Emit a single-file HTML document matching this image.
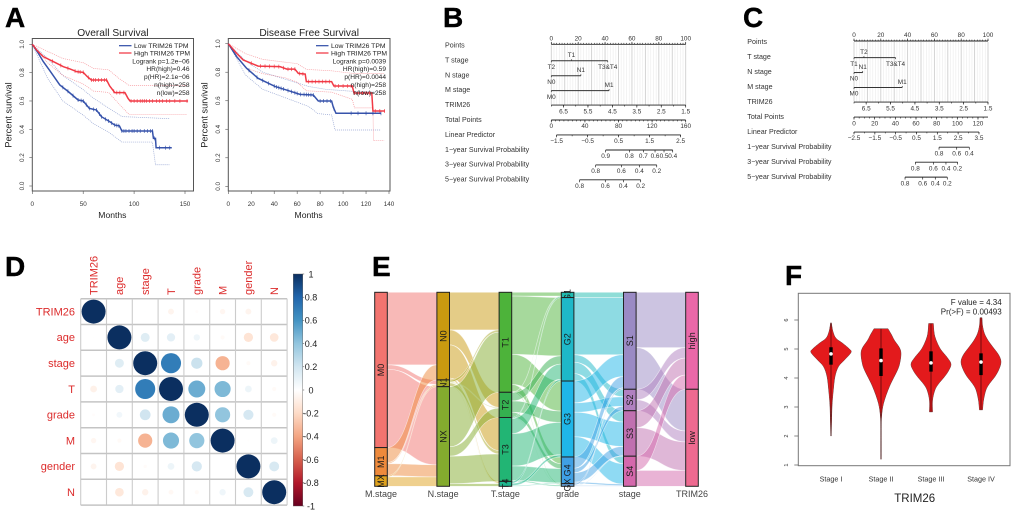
<!DOCTYPE html>
<html lang="en">
<head>
<meta charset="utf-8">
<title>TRIM26 multi-panel figure</title>
<style>
html,body{margin:0;padding:0;background:#fff;width:1020px;height:516px;overflow:hidden}
svg{display:block;font-family:"Liberation Sans",Arial,sans-serif;filter:blur(.35px)}
.letter{font-weight:bold;font-size:28px;fill:#000;stroke:#000;stroke-width:.4}
</style>
</head>
<body>
<svg id="figure" xmlns="http://www.w3.org/2000/svg" width="1020" height="516" viewBox="0 0 1020 516">
  <rect x="0" y="0" width="1020" height="516" fill="#fff"/>
  <defs>
    <linearGradient id="corrGradient" x1="0" y1="1" x2="0" y2="0"></linearGradient>
  </defs>
  <text class="letter" x="5" y="27">A</text>
  <text class="letter" x="443" y="27">B</text>
  <text class="letter" x="743" y="27">C</text>
  <text class="letter" x="5" y="276">D</text>
  <text class="letter" x="372" y="276">E</text>
  <text class="letter" x="785" y="285">F</text>
  <g id="panelA1"></g>
  <g id="panelA2"></g>
  <g id="panelB"></g>
  <g id="panelC"></g>
  <g id="panelD"></g>
  <g id="panelE"></g>
  <g id="panelF"></g>
</svg>
<script>
/* ---------- Panel A data ---------- */
const osLowMonths = [0,5.9,10.8,17.4,27,35.4,45,50,56,63,68,76,81,85.6,88,118,119,121,121.6,137];
const osLowSurv = [1,.937,.878,.812,.713,.666,.607,.6,.548,.536,.489,.454,.43,.424,.388,.388,.336,.336,.27,.27];
const osHighMonths = [0,4.3,10.8,20.6,30.5,37,43.6,50,54,58,73,76,81,91,94,96,153];
const osHighSurv = [1,.96,.913,.878,.842,.826,.807,.802,.772,.748,.748,.706,.659,.659,.619,.6,.6];
const osLowUpperMonths = [0,15,30,50,60,75,88,135];
const osLowUpperSurv = [1,.9,.78,.68,.62,.55,.49,.475];
const osLowLowerMonths = [0,15,30,50,60,75,88,118,121,135];
const osLowLowerSurv = [1,.76,.6,.5,.44,.38,.31,.31,.15,.15];
const osHighUpperMonths = [0,15,30,50,60,75,85,95,152];
const osHighUpperSurv = [1,.95,.9,.87,.83,.82,.76,.71,.71];
const osHighLowerMonths = [0,15,30,50,60,75,85,95,152];
const osHighLowerSurv = [1,.87,.78,.72,.67,.66,.58,.505,.505];
const osLowCensor = [30,35,40,45,48,50,53,56,60,63,66,68,72,75,78,81,83,85,88,90,92,95,98,100,103,106,110,113,116,118,120,125,131,135];
const osHighCensor = [20,28,35,42,45,47,50,55,58,60,62,65,68,71,73,80,83,86,90,97,100,103,106,108,110,112,115,118,122,125,128,132,135,140,145,152];
const osStats = ["Logrank p=1.2e−06","HR(high)=0.46","p(HR)=2.1e−06","n(high)=258","n(low)=258"];
const osXTicks = [0,50,100,150];

const dfsLowMonths = [0,7.3,16,26,40.7,50.8,62.4,74,78.4,90,91.5,93.8,133];
const dfsLowSurv = [1,.909,.827,.757,.7,.675,.645,.64,.598,.598,.554,.512,.512];
const dfsHighMonths = [0,7.3,13,26,45,51,58,61,67,68,90,92,108,109.5,125,126,136.5];
const dfsHighSurv = [1,.932,.886,.843,.839,.822,.822,.792,.787,.734,.734,.703,.703,.654,.654,.528,.528];
const dfsLowUpperMonths = [0,15,30,50,70,85,110,133];
const dfsLowUpperSurv = [1,.88,.8,.75,.7,.68,.665,.66];
const dfsLowLowerMonths = [0,15,30,50,70,78,90,93,133];
const dfsLowLowerSurv = [1,.78,.68,.62,.56,.51,.5,.395,.395];
const dfsHighUpperMonths = [0,15,30,50,60,68,90,110,136];
const dfsHighUpperSurv = [1,.93,.89,.87,.86,.82,.81,.79,.79];
const dfsHighLowerMonths = [0,15,30,50,60,68,90,108,110,126,126.5,136];
const dfsHighLowerSurv = [1,.83,.79,.76,.73,.67,.66,.61,.55,.55,.32,.32];
const dfsLowCensor = [18,25,30,35,40,42,44,46,48,52,55,58,60,63,66,68,70,72,74,80,83,86,89,92,107,113,120,126,133];
const dfsHighCensor = [20,28,32,36,40,44,48,52,55,58,62,65,70,73,76,79,82,85,88,93,96,100,104,107,110,113,117,120,123,128,132,136];
const dfsStats = ["Logrank p=0.0039","HR(high)=0.59","p(HR)=0.0044","n(high)=258","n(low)=258"];
const dfsXTicks = [0,20,40,60,80,100,120,140];
const survivalTicks = [0,.2,.4,.6,.8,1];

/* ---------- Panels B / C data (positions in nomogram units) ---------- */
const nomoRowLabels = ["Points","T stage","N stage","M stage","TRIM26","Total Points","Linear Predictor","1−year Survival Probability","3−year Survival Probability","5−year Survival Probability"];
const pointsTicks = [0,20,40,60,80,100];
const trimTicks = [6.5,5.5,4.5,3.5,2.5,1.5];

const bTLabels = ["T2","T1","T3&T4"];
const bTPoints = [0,15,42];
const bNLabels = ["N0","N1"];
const bNPoints = [0,22];
const bMLabels = ["M0","M1"];
const bMPoints = [0,43];
const bTotalTicks = [0,40,80,120,160];
const bLpTicks = [-1.5,-.5,.5,1.5,2.5];
const b1yLabels = ["0.9","0.8","0.7","0.6","0.5","0.4"];
const b1yTotals = [64.7,92.9,109.6,123.5,134.2,144.5];
const b3yLabels = ["0.8","0.6","0.4","0.2"];
const b3yTotals = [52.8,83.4,104.8,125.5];
const b5yLabels = ["0.8","0.6","0.4","0.2"];
const b5yTotals = [33.7,64.3,85.8,106.4];

const cTLabels = ["T1","T2","T3&T4"];
const cTPoints = [0,7.4,31];
const cNLabels = ["N0","N1"];
const cNPoints = [0,6.5];
const cMLabels = ["M0","M1"];
const cMPoints = [0,36];
const cTotalTicks = [0,20,40,60,80,100,120];
const cLpTicks = [-2.5,-1.5,-.5,.5,1.5,2.5,3.5];
const c1yLabels = ["0.8","0.6","0.4"];
const c1yTotals = [82.3,99.4,111.6];
const c3yLabels = ["0.8","0.6","0.4","0.2"];
const c3yTotals = [59.4,76.8,89,100.3];
const c5yLabels = ["0.8","0.6","0.4","0.2"];
const c5yTotals = [49.4,66.5,78.7,90.3];

/* ---------- Panel D data ---------- */
const corrVars = ["TRIM26","age","stage","T","grade","M","gender","N"];
const corrMatrix = [
 [1,0,0.003,-0.06,-0.015,-0.05,-0.06,0],
 [-0.003,1,0.14,0.12,0.07,-0.03,-0.15,-0.13],
 [0.003,0.14,1,0.7,0.22,-0.35,-0.03,-0.07],
 [-0.08,0.12,0.7,1,0.5,0.45,0.08,-0.03],
 [-0.015,0.06,0.2,0.5,1,0.4,0.18,-0.03],
 [-0.05,-0.03,-0.35,0.45,0.4,1,-0.006,0.08],
 [-0.06,-0.15,-0.02,0.08,0.18,0,1,0.17],
 [0,-0.13,-0.07,-0.04,-0.03,0.07,0.17,1]
];
const corrBarTicks = [1,0.8,0.6,0.4,0.2,0,-0.2,-0.4,-0.6,-0.8,-1];

/* ---------- Panel E data ---------- */
const alluvialAxisTitles = ["M.stage","N.stage","T.stage","grade","stage","TRIM26"];
const mStageLevels = ["M0","M1","MX"];
const nStageLevels = ["N0","N1","NX"];
const tStageLevels = ["T1","T2","T3","T4"];
const gradeLevels = ["G1","G2","G3","G4","GX"];
const stageLevels = ["S1","S2","S3","S4"];
const trimLevels = ["high","low"];
const mToN = [[193,12,208],[40,3,32],[0,3,25]];
const nToT = [[100,40,88,5],[6,2,9,1],[160,25,73,7]];
const tToGrade = [[10,155,80,18,3],[1,22,30,13,1],[3,40,86,38,3],[0,5,6,2,0]];
const gradeToStage = [[14,0,0,0],[152,20,30,20],[58,25,65,54],[30,12,25,4],[4,0,1,2]];
const stageToTrim = [[147,111],[28,29],[45,76],[38,42]];

/* ---------- Panel F data ---------- */
const violinGroups = ["Stage I","Stage II","Stage III","Stage IV"];
const violinLevels = [
 [5.9,5.6,5.37,5.2,5,4.88,4.62,4.39,4.05,3.6,3.3,3,2.5,2],
 [5.7,5.5,5.3,5.05,4.85,4.55,4.28,3.7,3.13,2.67,2.2,1.5,1.2],
 [5.88,5.6,5.42,5.2,4.97,4.7,4.48,4.25,4.04,3.8,3.59,3.24,2.83],
 [6.08,5.8,5.54,5.3,5.08,4.8,4.56,4.3,4.05,3.8,3.59,3.24,2.9]
];
const violinDensity = [
 [.02,.1,.25,.58,.92,1,.67,.37,.2,.12,.08,.05,.03,.01],
 [.35,.52,.67,.92,1,.95,.83,.42,.13,.03,.012,.012,.01],
 [.12,.15,.2,.32,.5,.82,1,.88,.67,.38,.2,.08,.08],
 [.05,.08,.17,.35,.58,.88,1,.9,.7,.42,.25,.13,.08]
];
const violinMedian = [4.83,4.6,4.52,4.55];
const violinQ1 = [4.46,4.07,4.22,4.1];
const violinQ3 = [5.06,5.02,4.92,4.85];
const violinYTicks = [1,2,3,4,5,6];

/* ---------- helpers ---------- */
const NS = "http://www.w3.org/2000/svg";
function el(parent, tag, attrs, txt) {
  const e = document.createElementNS(NS, tag);
  for (const k in attrs) e.setAttribute(k, attrs[k]);
  if (txt !== undefined) e.textContent = txt;
  parent.appendChild(e);
  return e;
}
function interp(xs, ys, x) {
  if (x <= xs[0]) return ys[0];
  for (let i = 1; i < xs.length; i++) {
    if (x <= xs[i]) {
      const t = (x - xs[i-1]) / ((xs[i] - xs[i-1]) || 1);
      return ys[i-1] + t * (ys[i] - ys[i-1]);
    }
  }
  return ys[ys.length - 1];
}
function polyline(xs, ys, sx, sy) {
  return xs.map((v, i) => (i ? "L" : "M") + sx(v).toFixed(2) + " " + sy(ys[i]).toFixed(2)).join("");
}
function slug(s) {
  return String(s).toLowerCase().replace(/[^a-z0-9]+/g, "-").replace(/^-|-$/g, "");
}
/* Catmull-Rom spline through [x,y] pairs, returned as cubic segments */
function splineSegments(pts) {
  let d = "";
  for (let i = 0; i < pts.length - 1; i++) {
    const p0 = pts[Math.max(i - 1, 0)], p1 = pts[i], p2 = pts[i + 1], p3 = pts[Math.min(i + 2, pts.length - 1)];
    const c1x = p1[0] + (p2[0] - p0[0]) / 6, c1y = p1[1] + (p2[1] - p0[1]) / 6;
    const c2x = p2[0] - (p3[0] - p1[0]) / 6, c2y = p2[1] - (p3[1] - p1[1]) / 6;
    d += "C" + c1x.toFixed(2) + " " + c1y.toFixed(2) + " " + c2x.toFixed(2) + " " + c2y.toFixed(2) + " " + p2[0].toFixed(2) + " " + p2[1].toFixed(2);
  }
  return d;
}

/* ---------- Kaplan-Meier panels ---------- */
function drawKM(g, c) {
  const sx = m => c.x0 + (m / c.xRefValue) * (c.xRefPx - c.x0);
  const sy = s => c.y0 - s * (c.y0 - c.y1);
  const box = el(g, "rect", {x: c.boxL, y: 38.5, width: c.boxR - c.boxL, height: 152.5, fill: "none", stroke: "#555", "stroke-width": 1});
  
  
  const title = el(g, "text", {x: (c.boxL + c.boxR) / 2, y: 36, "text-anchor": "middle", "font-size": 10.2, fill: "#222"}, c.title);
  
  
  c.xTicks.forEach(v => {
    const t = el(g, "line", {x1: sx(v), x2: sx(v), y1: 191, y2: 194, stroke: "#555", "stroke-width": .6});
    
    
    const l = el(g, "text", {x: sx(v), y: 206, "text-anchor": "middle", "font-size": 6.3, fill: "#333"}, v);
    
    
  });
  survivalTicks.forEach(v => {
    const t = el(g, "line", {x1: c.boxL - 3, x2: c.boxL, y1: sy(v), y2: sy(v), stroke: "#555", "stroke-width": .6});
    
    
    const lx = c.boxL - 8.5;
    const l = el(g, "text", {x: lx, y: sy(v), "text-anchor": "middle", "font-size": 6.3, fill: "#333", transform: "rotate(-90 " + lx + " " + sy(v) + ")"}, v.toFixed(1));
    
    
  });
  const xt = el(g, "text", {x: (c.boxL + c.boxR) / 2 - 0.5, y: 218, "text-anchor": "middle", "font-size": 8.6, fill: "#222"}, "Months");
  
  
  const ytx = c.boxL - 21;
  const yt = el(g, "text", {x: ytx, y: 115, "text-anchor": "middle", "font-size": 9.2, fill: "#222", transform: "rotate(-90 " + ytx + " 115)"}, "Percent survival");
  
  

  c.bands.forEach(b => {
    const p = el(g, "path", {d: polyline(b.m, b.s, sx, sy), fill: "none", stroke: b.color, "stroke-width": .7, "stroke-dasharray": "1 1", opacity: .5});
    
    
  });
  c.curves.forEach(k => {
    const p = el(g, "path", {d: polyline(k.m, k.s, sx, sy), fill: "none", stroke: k.color, "stroke-width": 1.5, opacity: .95});
    
    
    k.censor.forEach(m => {
      const y = sy(interp(k.m, k.s, m));
      const t = el(g, "line", {x1: sx(m), x2: sx(m), y1: y - 2, y2: y + 2, stroke: k.color, "stroke-width": .7, opacity: .85});
      
      
    });
  });
  [["Low TRIM26 TPM", c.curves[0].color, 45.7], ["High TRIM26 TPM", c.curves[1].color, 53]].forEach(row => {
    const ln = el(g, "line", {x1: c.legX, x2: c.legX + 12.5, y1: row[2], y2: row[2], stroke: row[1], "stroke-width": 1.2});
    
    
    const tx = el(g, "text", {x: c.legX + 15, y: row[2] + 2.3, "font-size": 6.8, fill: "#222"}, row[0]);
    
    
  });
  c.stats.forEach((s, i) => {
    const tx = el(g, "text", {x: c.boxR - 4, y: 63.3 + i * 7.9, "text-anchor": "end", "font-size": 6.6, fill: "#222"}, s);
    
    
  });
}
const lowBlue = "#2c4aa6";
const highRed = "#f02f3c";
drawKM(document.getElementById("panelA1"), {
  key: "overall-survival", title: "Overall Survival", x0: 32.3, xRefValue: 150, xRefPx: 185,
  y0: 186, y1: 44.3, boxL: 32.3, boxR: 193.5, legX: 119, stats: osStats, xTicks: osXTicks,
  curves: [
    {name: "low", m: osLowMonths, s: osLowSurv, color: lowBlue, censor: osLowCensor},
    {name: "high", m: osHighMonths, s: osHighSurv, color: highRed, censor: osHighCensor}
  ],
  bands: [
    {name: "low-upper", m: osLowUpperMonths, s: osLowUpperSurv, color: lowBlue},
    {name: "low-lower", m: osLowLowerMonths, s: osLowLowerSurv, color: lowBlue},
    {name: "high-upper", m: osHighUpperMonths, s: osHighUpperSurv, color: highRed},
    {name: "high-lower", m: osHighLowerMonths, s: osHighLowerSurv, color: highRed}
  ]
});
drawKM(document.getElementById("panelA2"), {
  key: "disease-free-survival", title: "Disease Free Survival", x0: 228.3, xRefValue: 140, xRefPx: 389,
  y0: 186.3, y1: 43.7, boxL: 228.3, boxR: 390, legX: 316, stats: dfsStats, xTicks: dfsXTicks,
  curves: [
    {name: "low", m: dfsLowMonths, s: dfsLowSurv, color: lowBlue, censor: dfsLowCensor},
    {name: "high", m: dfsHighMonths, s: dfsHighSurv, color: highRed, censor: dfsHighCensor}
  ],
  bands: [
    {name: "low-upper", m: dfsLowUpperMonths, s: dfsLowUpperSurv, color: lowBlue},
    {name: "low-lower", m: dfsLowLowerMonths, s: dfsLowLowerSurv, color: lowBlue},
    {name: "high-upper", m: dfsHighUpperMonths, s: dfsHighUpperSurv, color: highRed},
    {name: "high-lower", m: dfsHighLowerMonths, s: dfsHighLowerSurv, color: highRed}
  ]
});

/* ---------- Nomograms ---------- */
function drawNomogram(g, c) {
  const ink = "#333";
  const px = p => c.x0 + (p / 100) * (c.x1 - c.x0);
  const tpx = t => c.x0 + (t / c.totalMax) * (c.x1 - c.x0);
  const rowY = i => c.rowY0 + i * c.rowStep;
  const trimPoints = v => (7 - v) / 5.5 * 100;
  const lpTotal = v => c.lpAt0 + v * c.lpSlope;

  for (let p = 0; p <= 100; p += 2) {
    const major = p % 10 === 0;
    const ln = el(g, "line", {x1: px(p), x2: px(p), y1: rowY(0), y2: rowY(4), stroke: major ? "#cfcfcf" : "#eeeeee", "stroke-width": major ? .9 : .7});
    
    
  }
  nomoRowLabels.forEach((s, i) => {
    const t = el(g, "text", {x: c.labelX, y: rowY(i) + 2.2, "font-size": 7.1, fill: ink}, s);
    
    
  });
  function axis(name, y, from, to, ticks, labelled, dir) {
    const base = el(g, "line", {x1: from, x2: to, y1: y, y2: y, stroke: "#222", "stroke-width": .9});
    
    
    ticks.forEach(x => {
      const t = el(g, "line", {x1: x, x2: x, y1: y, y2: y + dir * 1.4, stroke: "#222", "stroke-width": .6});
      
      
    });
    labelled.forEach(o => {
      const t = el(g, "line", {x1: o.x, x2: o.x, y1: y, y2: y + dir * 2.4, stroke: "#222", "stroke-width": .7});
      
      
      const l = el(g, "text", {x: o.x, y: dir < 0 ? y - 4 : y + 8.2, "text-anchor": "middle", "font-size": 6.4, fill: ink}, o.label);
      
      
    });
  }
  const minorPoints = [];
  for (let p = 0; p <= 100; p += 2) minorPoints.push(px(p));
  axis("points", rowY(0) - 1, px(0), px(100), minorPoints, pointsTicks.map(v => ({x: px(v), label: v})), -1);

  c.categories.forEach((cat, r) => {
    const y = rowY(r + 1) + .6;
    const ln = el(g, "line", {x1: px(cat.points[0]), x2: px(Math.max.apply(null, cat.points)), y1: y, y2: y, stroke: "#333", "stroke-width": 1});
    
    
    cat.labels.forEach((s, i) => {
      const up = cat.above[i];
      const x = px(cat.points[i]);
      const t = el(g, "line", {x1: x, x2: x, y1: y, y2: up ? y - 1.5 : y + 1.5, stroke: "#333", "stroke-width": .7});
      
      
      const l = el(g, "text", {x: x, y: up ? y - 3.6 : y + 8.2, "text-anchor": "middle", "font-size": 6.4, fill: ink}, s);
      
      
    });
  });

  const minorTrim = [];
  for (let v = 7; v >= 1.49; v -= .5) minorTrim.push(px(trimPoints(v)));
  axis("trim26", rowY(4) + .2, px(0), px(100), minorTrim, trimTicks.map(v => ({x: px(trimPoints(v)), label: v.toFixed(1)})), 1);

  const minorTotal = [];
  for (let t = 0; t <= c.totalMax; t += 5) minorTotal.push(tpx(t));
  axis("total-points", rowY(5) + .2, tpx(0), tpx(c.totalMax), minorTotal, c.totalTicks.map(v => ({x: tpx(v), label: v})), 1);

  const minorLp = [];
  const lpFirst = c.lpTicks[0], lpLast = c.lpTicks[c.lpTicks.length - 1];
  for (let v = lpFirst; v <= lpLast + .001; v += .5) minorLp.push(tpx(lpTotal(v)));
  axis("linear-predictor", rowY(6) + .2, tpx(lpTotal(lpFirst)), tpx(lpTotal(lpLast)), minorLp,
    c.lpTicks.map(v => ({x: tpx(lpTotal(v)), label: (v < 0 ? "−" : "") + Math.abs(v).toFixed(1)})), 1);

  c.probs.forEach((pr, i) => {
    const xs = pr.totals.map(tpx);
    axis(pr.name, rowY(7 + i) + .4, xs[0], xs[xs.length - 1], [], xs.map((x, k) => ({x: x, label: pr.labels[k]})), 1);
  });
}
drawNomogram(document.getElementById("panelB"), {
  x0: 551.3, x1: 685.7, totalMax: 160, rowY0: 45.3, rowStep: 14.9, labelX: 445, lpAt0: 61.7, lpSlope: 36.9,
  totalTicks: bTotalTicks, lpTicks: bLpTicks,
  categories: [
    {name: "t-stage", labels: bTLabels, points: bTPoints, above: [false,true,false]},
    {name: "n-stage", labels: bNLabels, points: bNPoints, above: [false,true]},
    {name: "m-stage", labels: bMLabels, points: bMPoints, above: [false,true]}
  ],
  probs: [
    {name: "one-year-survival", labels: b1yLabels, totals: b1yTotals},
    {name: "three-year-survival", labels: b3yLabels, totals: b3yTotals},
    {name: "five-year-survival", labels: b5yLabels, totals: b5yTotals}
  ]
});
drawNomogram(document.getElementById("panelC"), {
  x0: 854, x1: 988, totalMax: 129.7, rowY0: 42, rowStep: 14.97, labelX: 747.3, lpAt0: 50.4, lpSlope: 20.16,
  totalTicks: cTotalTicks, lpTicks: cLpTicks,
  categories: [
    {name: "t-stage", labels: cTLabels, points: cTPoints, above: [false,true,false]},
    {name: "n-stage", labels: cNLabels, points: cNPoints, above: [false,true]},
    {name: "m-stage", labels: cMLabels, points: cMPoints, above: [false,true]}
  ],
  probs: [
    {name: "one-year-survival", labels: c1yLabels, totals: c1yTotals},
    {name: "three-year-survival", labels: c3yLabels, totals: c3yTotals},
    {name: "five-year-survival", labels: c5yLabels, totals: c5yTotals}
  ]
});

/* ---------- Correlation matrix ---------- */
(function () {
  const g = document.getElementById("panelD");
  const palette = ["#67001F","#B2182B","#D6604D","#F4A582","#FDDBC7","#FFFFFF","#D1E5F0","#92C5DE","#4393C3","#2166AC","#0B2F60"];
  const hex = h => [1,3,5].map(i => parseInt(h.substr(i, 2), 16));
  function colorOf(v) {
    const t = (v + 1) / 2 * (palette.length - 1);
    const i = Math.min(Math.floor(t), palette.length - 2);
    const a = hex(palette[i]), b = hex(palette[i + 1]), f = t - i;
    return "rgb(" + a.map((c, k) => Math.round(c + (b[k] - c) * f)).join(",") + ")";
  }
  const left = 80.7, top = 298.7, cell = 25.8, n = corrVars.length;
  const cx = i => left + cell * (i + .5);
  const cy = i => top + cell * (i + .5);
  for (let i = 0; i <= n; i++) {
    const v = el(g, "line", {x1: left + cell * i, x2: left + cell * i, y1: top, y2: top + cell * n, stroke: "#cccccc", "stroke-width": 1.1});
    
    
    const h = el(g, "line", {x1: left, x2: left + cell * n, y1: top + cell * i, y2: top + cell * i, stroke: "#c4c4c4", "stroke-width": 1.5});
    
    
  }
  corrVars.forEach((s, i) => {
    const rowLabel = el(g, "text", {x: 75, y: cy(i) + 3.8, "text-anchor": "end", "font-size": 11, fill: "#dc2b2b"}, s);
    
    
    const colLabel = el(g, "text", {x: 0, y: 0, "font-size": 11, fill: "#dc2b2b", transform: "translate(" + (cx(i) + 3.8) + " 295) rotate(-90)"}, s);
    
    
  });
  corrMatrix.forEach((row, r) => row.forEach((v, c) => {
    const dot = el(g, "circle", {cx: cx(c), cy: cy(r), r: 12 * Math.sqrt(Math.abs(v)), fill: colorOf(v)});
    
    
  }));
  const grad = document.getElementById("corrGradient");
  palette.forEach((c, i) => {
    el(grad, "stop", {offset: (i / (palette.length - 1)), "stop-color": c});
  });
  const barTop = 274, barBottom = 506, barL = 293.3, barW = 9.4;
  const by = v => barBottom - (v + 1) / 2 * (barBottom - barTop);
  const bar = el(g, "rect", {x: barL, y: barTop, width: barW, height: barBottom - barTop, fill: "url(#corrGradient)", stroke: "#555", "stroke-width": .4});
  
  
  corrBarTicks.forEach(v => {
    const t = el(g, "line", {x1: barL + barW, x2: barL + barW + 1.5, y1: by(v), y2: by(v), stroke: "#333", "stroke-width": .5});
    
    
    const l = el(g, "text", {x: 311, y: by(v) + 3.3, "text-anchor": "middle", "font-size": 9, fill: "#222"}, v);
    
    
  });
})();

/* ---------- Alluvial ---------- */
(function () {
  const g = document.getElementById("panelE");
  const axes = [mStageLevels, nStageLevels, tStageLevels, gradeLevels, stageLevels, trimLevels];
  const flows = [mToN, nToT, tToGrade, gradeToStage, stageToTrim];
  const colours = [
    ["#f2746f","#ee8a3c","#dfa21e"],
    ["#c99a10","#a8a825","#84ab2e"],
    ["#4db33a","#35b050","#22b574","#20b890"],
    ["#20bcb0","#1eb8c8","#1fb6e8","#3fa0e4","#6aa8e0"],
    ["#9a8ac4","#b080c0","#c070b0","#d468ac"],
    ["#ea68a8","#ee6a90"]
  ];
  const total = 516, top = 292.3, height = 194, barW = 12.6;
  const ax = i => 374.7 + i * 62.2;
  const sy = c => top + c / total * height;
  const sizes = axes.map((lv, a) => lv.map((_, s) => {
    if (a < flows.length) return flows[a][s].reduce((p, q) => p + q, 0);
    return flows[a - 1].reduce((p, row) => p + row[s], 0);
  }));
  const starts = sizes.map(list => {
    let acc = 0;
    return list.map(v => { const r = acc; acc += v; return r; });
  });
  flows.forEach((mat, a) => {
    const outAcc = starts[a].slice();
    const inAcc = starts[a + 1].slice();
    const x0 = ax(a) + barW, x1 = ax(a + 1), xm = (x0 + x1) / 2;
    mat.forEach((row, s) => row.forEach((v, d) => {
      if (!v) return;
      const y0 = sy(outAcc[s]), y0b = sy(outAcc[s] + v);
      const y1 = sy(inAcc[d]), y1b = sy(inAcc[d] + v);
      outAcc[s] += v;
      inAcc[d] += v;
      const dPath = "M" + x0 + " " + y0 + "C" + xm + " " + y0 + " " + xm + " " + y1 + " " + x1 + " " + y1 +
        "L" + x1 + " " + y1b + "C" + xm + " " + y1b + " " + xm + " " + y0b + " " + x0 + " " + y0b + "Z";
      const r = el(g, "path", {d: dPath, fill: colours[a][s], "fill-opacity": .5, stroke: "#fff", "stroke-opacity": .6, "stroke-width": .6});
      
      
    }));
  });
  axes.forEach((levels, a) => {
    levels.forEach((s, i) => {
      const y = sy(starts[a][i]), h = sizes[a][i] / total * height;
      const rect = el(g, "rect", {x: ax(a), y: y, width: barW, height: h, fill: colours[a][i], stroke: "#222", "stroke-width": 1});
      
      
      const cx = ax(a) + barW / 2 + 3.1, cy = y + h / 2;
      const t = el(g, "text", {x: cx, y: cy, "text-anchor": "middle", "font-size": 9, fill: "#1a1a1a", transform: "rotate(-90 " + cx + " " + cy + ")"}, s);
      
      
    });
    const title = el(g, "text", {x: ax(a) + barW / 2, y: 497, "text-anchor": "middle", "font-size": 9, fill: "#444"}, alluvialAxisTitles[a]);
    
    
  });
})();

/* ---------- Violin ---------- */
(function () {
  const g = document.getElementById("panelF");
  const sy = v => 465 - (v - 1) * 29;
  const cx = i => 831 + i * 50;
  const maxHalf = 20;
  const frame = el(g, "rect", {x: 798.3, y: 293.3, width: 211.7, height: 172.4, fill: "none", stroke: "#777", "stroke-width": 1});
  
  
  violinYTicks.forEach(v => {
    const t = el(g, "line", {x1: 794.3, x2: 798.3, y1: sy(v), y2: sy(v), stroke: "#555", "stroke-width": .7});
    
    
    const l = el(g, "text", {x: 788, y: sy(v), "text-anchor": "middle", "font-size": 5.6, fill: "#333", transform: "rotate(-90 788 " + sy(v) + ")"}, v);
    
    
  });
  violinGroups.forEach((name, i) => {
    const levels = violinLevels[i], dens = violinDensity[i];
    const right = levels.map((v, k) => [cx(i) + dens[k] * maxHalf, sy(v)]);
    const left = levels.map((v, k) => [cx(i) - dens[k] * maxHalf, sy(v)]).reverse();
    const dPath = "M" + right[0][0].toFixed(2) + " " + right[0][1].toFixed(2) + splineSegments(right) +
      "L" + left[0][0].toFixed(2) + " " + left[0][1].toFixed(2) + splineSegments(left) + "Z";
    const shape = el(g, "path", {d: dPath, fill: "#e31a1c", stroke: "#6b3a3a", "stroke-width": .5, "stroke-linejoin": "round"});
    
    
    const whisker = el(g, "line", {x1: cx(i), x2: cx(i), y1: sy(levels[0]), y2: sy(levels[levels.length - 1]), stroke: "#2a0000", "stroke-width": .6});
    
    
    const box = el(g, "rect", {x: cx(i) - 1.7, y: sy(violinQ3[i]), width: 3.4, height: sy(violinQ1[i]) - sy(violinQ3[i]), fill: "#000"});
    
    
    const med = el(g, "circle", {cx: cx(i), cy: sy(violinMedian[i]), r: 1.8, fill: "#fff"});
    
    
    const lab = el(g, "text", {x: cx(i), y: 481.5, "text-anchor": "middle", "font-size": 7.2, fill: "#333"}, name);
    
    
  });
  const xTitle = el(g, "text", {x: 914.7, y: 502, "text-anchor": "middle", "font-size": 11.5, fill: "#222"}, "TRIM26");
  
  
  const fv = el(g, "text", {x: 1001.7, y: 304.8, "text-anchor": "end", "font-size": 8, fill: "#222"}, "F value = 4.34");
  
  
  const pv = el(g, "text", {x: 1001.7, y: 314.5, "text-anchor": "end", "font-size": 8, fill: "#222"}, "Pr(>F) = 0.00493");
  
  
})();
</script>
</body>
</html>
